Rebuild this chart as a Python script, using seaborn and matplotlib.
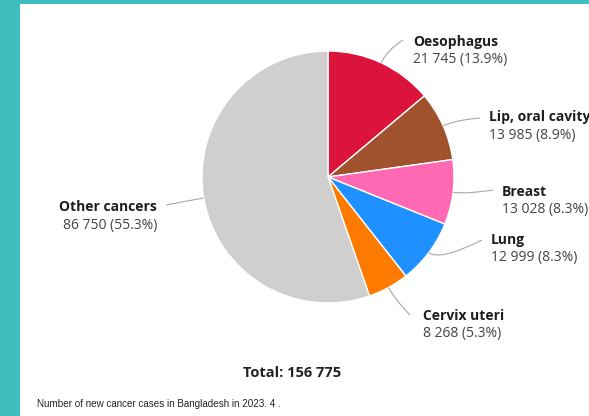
import numpy as np
import matplotlib
matplotlib.use("Agg")
import matplotlib.pyplot as plt
import matplotlib.patches as mpatches
from matplotlib.path import Path
import seaborn as sns

# data
sites = ["Oesophagus", "Lip, oral cavity", "Breast", "Lung", "Cervix uteri", "Other cancers"]
cases = [21745, 13985, 13028, 12999, 8268, 86750]
colors = ["crimson", "sienna", "hotpink", "dodgerblue", "#ff7b00", "#cfcfcf"]
caption = "Number of new cancer cases in Bangladesh in 2023. 4 ."

W, H = 589, 416
CX, CY, R = 328, 177, 126

# label layout (pixels, y from top): text x, name y, connector end, alignment
label_pos = [
    (413, 42, (403, 40), "left"),
    (489, 117, (480, 118), "left"),
    (502, 192, (493, 190), "left"),
    (491, 240, (482, 240), "left"),
    (423, 316, (410, 315), "left"),
    (157, 207, (166, 205), "right"),
]


def fmt(v):
    return f"{v:,}".replace(",", " ")


def main():
    sns.set_theme(style="white")
    plt.rcParams["font.family"] = ["Open Sans", "DejaVu Sans"]

    fig = plt.figure(figsize=(W / 100, H / 100), dpi=100)
    fig.patch.set_facecolor("#3dbdbd")
    ax = fig.add_axes([0, 0, 1, 1])

    def yy(y):
        return H - y

    # white panel
    ax.add_patch(mpatches.Rectangle((20, 0), W - 20, H - 4, facecolor="white",
                                    edgecolor="none", zorder=0))

    total = sum(cases)
    ax.pie(cases, colors=colors, startangle=90, counterclock=False,
           center=(CX, yy(CY)), radius=R, frame=True,
           wedgeprops=dict(edgecolor="white", linewidth=1.0))
    ax.set_xlim(0, W)
    ax.set_ylim(0, H)
    ax.axis("off")

    fracs = np.array(cases) / total
    starts = np.concatenate([[0], np.cumsum(fracs)[:-1]])
    mids = (starts + fracs / 2) * 360

    for i, (name, v) in enumerate(zip(sites, cases)):
        tx, ty, end, ha = label_pos[i]
        a = np.deg2rad(mids[i])
        dx, dy = np.sin(a), -np.cos(a)
        p0 = (CX + R * dx, CY + R * dy)
        p1 = (CX + (R + 14) * dx, CY + (R + 14) * dy)
        verts = [(p0[0], yy(p0[1])), (p1[0], yy(p1[1])), (end[0], yy(end[1]))]
        path = Path(verts, [Path.MOVETO, Path.CURVE3, Path.CURVE3])
        ax.add_patch(mpatches.PathPatch(path, facecolor="none", edgecolor="#a8a8a8",
                                        linewidth=0.8))
        ax.text(tx, yy(ty), name, ha=ha, va="center", fontsize=10,
                fontweight="bold", color="#1e1e1e")
        ax.text(tx, yy(ty + 18), f"{fmt(v)} ({v / total * 100:.1f}%)", ha=ha,
                va="center", fontsize=10, color="#444444")

    ax.text(292, yy(373), f"Total: {fmt(total)}", ha="center", va="center",
            fontsize=10.5, fontweight="bold", color="#222222")
    ax.text(37, yy(404), caption, ha="left", va="center", fontsize=7.1,
            color="#222222", family=["Liberation Sans", "DejaVu Sans"])

    fig.savefig("out.png", dpi=100, facecolor=fig.get_facecolor())


if __name__ == "__main__":
    main()
